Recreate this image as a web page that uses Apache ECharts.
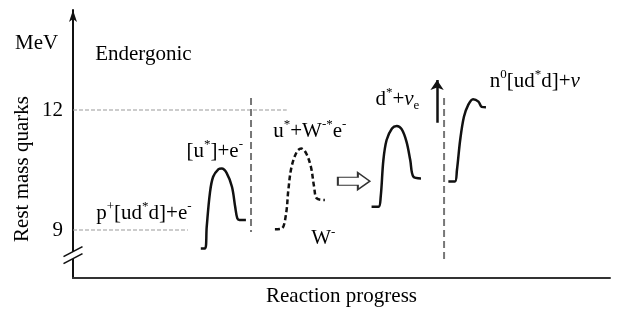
<!DOCTYPE html>
<html>
<head>
<meta charset="utf-8">
<script src="https://cdn.jsdelivr.net/npm/echarts@6/dist/echarts.min.js"></script>
<style>
  html, body { margin: 0; padding: 0; background: #fff; }
  #chart { width: 617px; height: 309px; }
</style>
</head>
<body>
<div id="chart"></div>
<script>
// reaction profile, points are [progress, rest mass MeV]
var stage1 = [[2.38, 8.54], [2.46, 8.54], [2.49, 9.08], [2.55, 9.93], [2.61, 10.33], [2.71, 10.52], [2.77, 10.54],
  [2.86, 10.43], [2.96, 10.08], [3.02, 9.58], [3.06, 9.29], [3.10, 9.25], [3.22, 9.25]]
var stage2 = [[3.76, 9.02], [3.89, 9.04], [3.97, 9.43], [4.01, 10.0], [4.07, 10.58], [4.17, 10.96], [4.25, 11.04],
  [4.34, 10.92], [4.43, 10.58], [4.49, 10.08], [4.54, 9.79], [4.69, 9.75]]
var stage3 = [[5.56, 9.58], [5.69, 9.58], [5.73, 9.83], [5.78, 10.75], [5.84, 11.25], [5.94, 11.54], [6.03, 11.6],
  [6.12, 11.52], [6.21, 11.21], [6.28, 10.75], [6.34, 10.33], [6.48, 10.29]]
var stage4 = [[6.99, 10.21], [7.11, 10.21], [7.15, 10.5], [7.21, 11.25], [7.28, 11.83], [7.36, 12.13], [7.45, 12.27],
  [7.55, 12.21], [7.61, 12.08], [7.69, 12.07]]

var yTicks = [9, 12]
var level12 = [[0, 12], [3.98, 12]]
var level9 = [[0, 9], [2.14, 9]]
var divider1 = [[3.315, 12.3], [3.315, 8.95]]
var divider2 = [[6.91, 12.3], [6.91, 8.2]]
var upArrow = [[6.78, 11.68], [6.78, 12.75]]
var flowArrow = [[5.23, 10.22]]
var axisBreak = [[0, 8.37]]

var labelNames = ['Endergonic', 'p{sup|+}[ud{sup|*}d]+e{sup|-}', '[u{sup|*}]+e{sup|-}', 'u{sup|*}+W{sup|-*}e{sup|-}',
  'W{sup|-}', 'd{sup|*}+{it|ν}{sub|e}', 'n{sup|0}[ud{sup|*}d]+{it|ν}']
var labelPos = [[1.31, 13.4], [1.32, 9.42], [2.64, 10.97], [4.41, 11.47], [4.66, 8.78], [6.04, 12.27], [8.6, 12.72]]

var serif = "'Liberation Serif', 'Times New Roman', serif"

var chart = echarts.init(document.getElementById('chart'))

function curve (data, dashed) {
  return {
    type: 'line', data: data, smooth: 0.35, showSymbol: false, silent: true,
    lineStyle: { color: '#111', width: 2.5, type: dashed ? [5, 3] : 'solid' }
  }
}
function guide (data, color, width, dash) {
  return {
    type: 'line', data: data, showSymbol: false, silent: true, z: 1,
    lineStyle: { color: color, width: width, type: dash }
  }
}

chart.setOption({
  animation: false,
  grid: { left: 73, right: 7, top: 10, bottom: 31, outerBoundsMode: 'none' },
  xAxis: {
    type: 'value', min: 0, max: 10,
    axisLine: { lineStyle: { color: '#333', width: 2 } },
    axisTick: { show: false }, axisLabel: { show: false }, splitLine: { show: false },
    name: 'Reaction progress', nameLocation: 'middle', nameGap: 8,
    nameTextStyle: { fontFamily: serif, fontSize: 21, color: '#000' }
  },
  yAxis: {
    type: 'value', min: 7.8, max: 14.5,
    axisLine: { show: true, symbol: ['none', 'arrow'], symbolSize: [6, 12], lineStyle: { color: '#111', width: 2 } },
    axisTick: { show: false }, splitLine: { show: false },
    axisLabel: { customValues: yTicks, fontFamily: serif, fontSize: 21, color: '#000', margin: 10 }
  },
  graphic: [
    { type: 'text', left: 15, top: 33, style: { text: 'MeV', font: '21px ' + serif, fill: '#000' } },
    {
      type: 'text', x: 22, y: 169, rotation: Math.PI / 2,
      style: { text: 'Rest mass quarks', font: '21px ' + serif, fill: '#000', align: 'center', verticalAlign: 'middle' }
    }
  ],
  series: [
    guide(level12, '#999', 1, [4, 2]),
    guide(level9, '#999', 1, [4, 2]),
    guide(divider1, '#777', 2, [7, 4]),
    guide(divider2, '#777', 2, [7, 4]),
    curve(stage1), curve(stage2, true), curve(stage3), curve(stage4),
    {
      type: 'lines', coordinateSystem: 'cartesian2d', silent: true, polyline: false,
      symbol: ['none', 'arrow'], symbolSize: [0, 10],
      lineStyle: { color: '#111', width: 2.5, opacity: 1 },
      data: [{ coords: upArrow }]
    },
    {
      type: 'scatter', data: flowArrow, silent: true,
      symbol: 'path://M0,4.5 L20,4.5 L20,0 L32,8.5 L20,17 L20,12.5 L0,12.5 Z', symbolSize: [32, 17],
      itemStyle: { color: '#fff', borderColor: '#333', borderWidth: 1.5, opacity: 1 }
    },
    {
      type: 'scatter', data: axisBreak, silent: true, z: 5, clip: false,
      symbol: 'path://M0,10 L19,0 L19,7 L0,17 Z', symbolSize: [19, 17],
      itemStyle: { color: '#fff', opacity: 1 }
    },
    {
      type: 'scatter', data: axisBreak, silent: true, z: 6, clip: false,
      symbol: 'path://M0,10 L19,0 M0,17 L19,7', symbolSize: [19, 17],
      itemStyle: { color: 'rgba(0,0,0,0)', borderColor: '#111', borderWidth: 1.5, opacity: 1 }
    },
    {
      type: 'scatter', silent: true, symbolSize: 1, itemStyle: { color: 'rgba(0,0,0,0)', opacity: 1 },
      data: labelPos.map(function (p, i) { return { name: labelNames[i], value: p } }),
      label: {
        show: true, position: 'inside', formatter: '{b}',
        fontFamily: serif, fontSize: 21, color: '#000', lineHeight: 26,
        textBorderWidth: 0, textShadowBlur: 0,
        rich: {
          sup: { fontFamily: serif, fontSize: 13, lineHeight: 13, verticalAlign: 'top', color: '#000', textBorderWidth: 0 },
          sub: { fontFamily: serif, fontSize: 13, lineHeight: 13, verticalAlign: 'bottom', color: '#000', textBorderWidth: 0 },
          it: { fontFamily: serif, fontSize: 21, fontStyle: 'italic', color: '#000', textBorderWidth: 0 }
        }
      }
    }
  ]
})
</script>
</body>
</html>
